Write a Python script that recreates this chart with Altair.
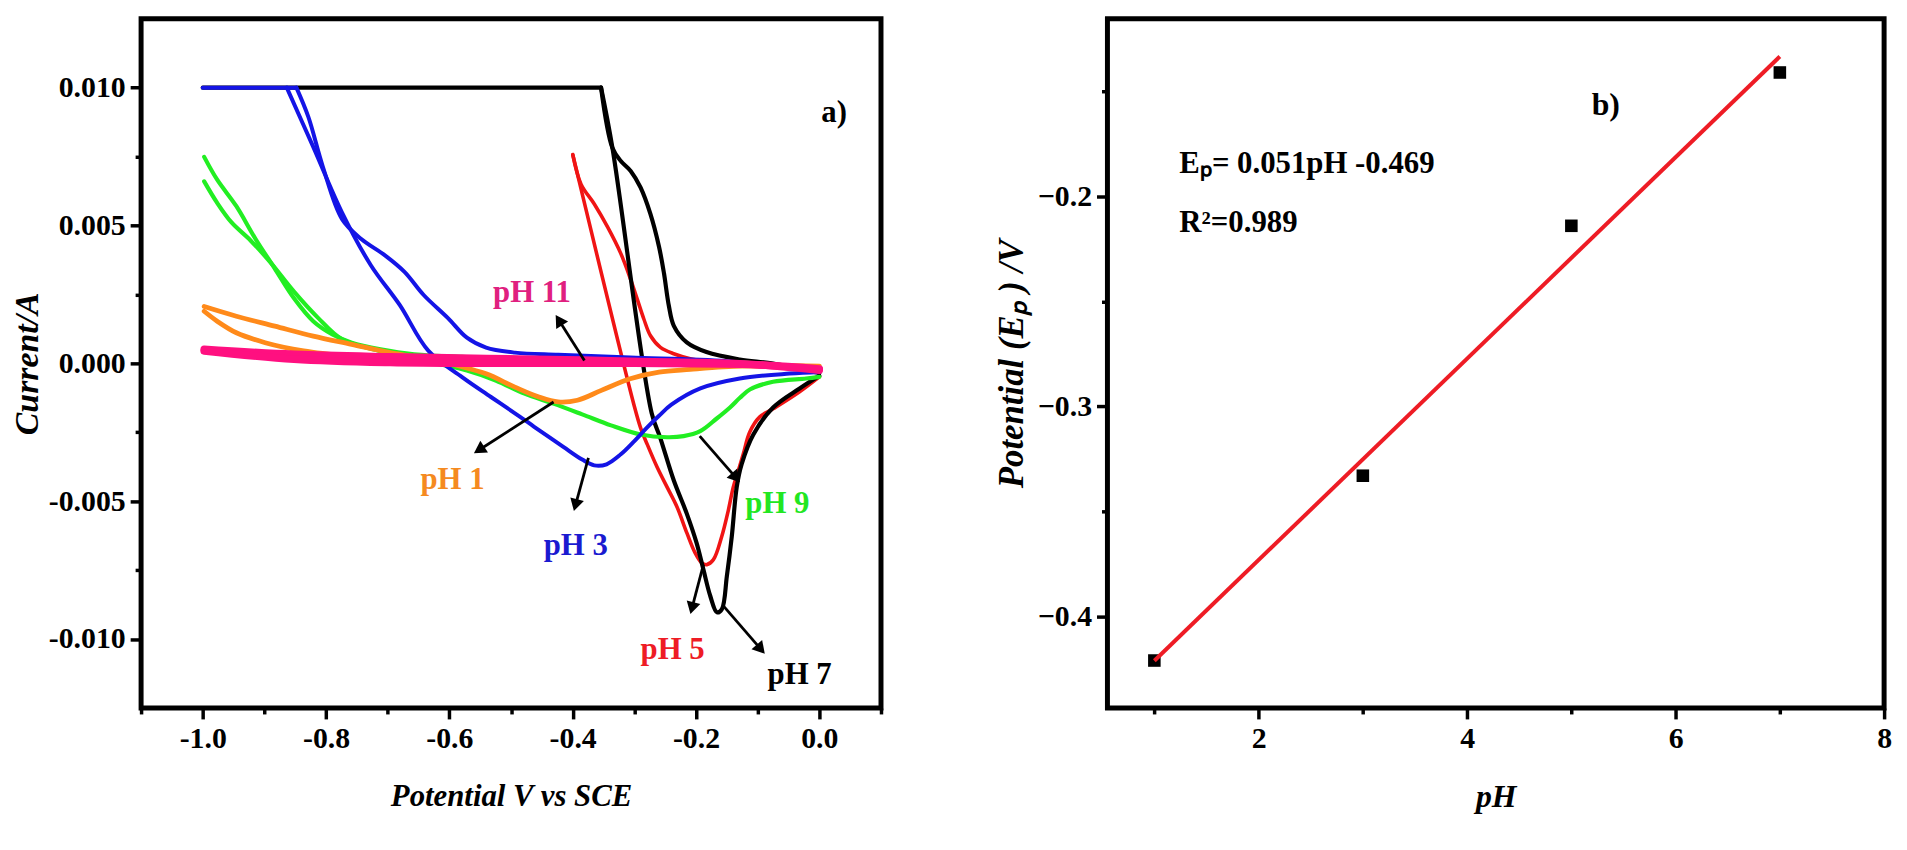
import math
import altair as alt
import pandas as pd

FONT = "Liberation Serif"

# ---------------- Panel a: cyclic voltammograms (potential V vs SCE, current A)
PH7_FLAT_X = [-1.0, -0.354]
PH7_FLAT_Y = [0.0100, 0.0100]
PH7_A_X = [0.0, -0.032, -0.075, -0.107, -0.126, -0.134, -0.142, -0.150, -0.158, -0.166, -0.177,
           -0.188, -0.199, -0.215, -0.236, -0.258, -0.272, -0.3355, -0.354]
PH7_A_Y = [-0.00045, -0.00091, -0.00160, -0.00258, -0.00366, -0.00449, -0.00628, -0.00772, -0.00891,
           -0.00903, -0.00843, -0.00748, -0.00652, -0.00545, -0.00425, -0.00270, -0.00180, 0.00781,
           0.0100]
PH7_B_X = [-0.354, -0.3355, -0.322, -0.306, -0.290, -0.274, -0.260, -0.252, -0.244, -0.236, -0.215,
           -0.183, -0.129, -0.075, 0.0]
PH7_B_Y = [0.0100, 0.00781, 0.00734, 0.00698, 0.00638, 0.00542, 0.00423, 0.00327, 0.00208, 0.00136,
           0.00076, 0.00041, 0.00014, -0.00001, -0.00035]

PH5_A_X = [0.0, -0.032, -0.075, -0.097, -0.113, -0.1235, -0.1315, -0.1396, -0.1476, -0.1583, -0.1718,
           -0.1825, -0.1906, -0.2013, -0.2147, -0.2308, -0.2469, -0.2630, -0.2791, -0.2899, -0.3006,
           -0.3999]
PH5_A_Y = [-0.00049, -0.00103, -0.00165, -0.00195, -0.00250, -0.00330, -0.00390, -0.00449, -0.00533,
           -0.00628, -0.00712, -0.00730, -0.00724, -0.00688, -0.00616, -0.00521, -0.00449, -0.00377,
           -0.00294, -0.00234, -0.00151, 0.00757]
PH5_B_X = [-0.3999, -0.3865, -0.3650, -0.3435, -0.3221, -0.3060, -0.2952, -0.2845, -0.2738, -0.2577,
           -0.2362, -0.2093, -0.1557, -0.0752, 0.0]
PH5_B_Y = [0.00757, 0.00650, 0.00578, 0.00495, 0.00399, 0.00304, 0.00232, 0.00160, 0.00100, 0.00058,
           0.00035, 0.00017, -0.00001, -0.00013, -0.00025]

PH3_FLAT_X = [-1.0, -0.8481]
PH3_FLAT_Y = [0.0100, 0.0100]
PH3_A_X = [-0.8637, -0.8208, -0.7741, -0.7274, -0.6806, -0.6339, -0.5794, -0.5326, -0.4859,
           -0.4625, -0.4158, -0.3846, -0.365, -0.345, -0.322, -0.300, -0.280, -0.260, -0.240, -0.193,
           -0.129, -0.048, 0.0]
PH3_A_Y = [0.0100, 0.00785, 0.00547, 0.00356, 0.00212, 0.00045, -0.00050, -0.00122, -0.00193,
           -0.00230, -0.00302, -0.00349, -0.00370, -0.00366, -0.00330, -0.00282, -0.00234, -0.00190,
           -0.00150, -0.00091, -0.00055, -0.00037, -0.00031]
PH3_B_X = [-0.8481, -0.8286, -0.8053, -0.7741, -0.7429, -0.7040, -0.6728, -0.6417, -0.6027,
           -0.5716, -0.5404, -0.4937, -0.4236, -0.3067, -0.15, 0.0]
PH3_B_Y = [0.0100, 0.00893, 0.00714, 0.00523, 0.00451, 0.00391, 0.00332, 0.00248, 0.00165,
           0.00093, 0.00057, 0.00039, 0.00031, 0.00021, 0.00008, -0.0003]

PH9_A_X = [-0.9977, -0.9766, -0.9455, -0.9143, -0.8832, -0.8520, -0.8208, -0.7897, -0.7585, -0.7118,
           -0.6573, -0.5794, -0.3, -0.1, 0.0]
PH9_A_Y = [0.00749, 0.00666, 0.00570, 0.00451, 0.00344, 0.00236, 0.00153, 0.00105, 0.00075, 0.00051,
           0.00033, 0.00024, 0.00012, 0.0, -0.0003]
PH9_B_X = [-0.9977, -0.9766, -0.9533, -0.9221, -0.8909, -0.8520, -0.8130, -0.7741, -0.7118, -0.6650,
           -0.6183, -0.5716, -0.5248, -0.4781, -0.4313, -0.3846, -0.3379, -0.2899, -0.2469, -0.2201,
           -0.1932, -0.1664, -0.1449, -0.1288, -0.1127, -0.0752, -0.0215, 0.0]
PH9_B_Y = [0.00660, 0.00582, 0.00511, 0.00445, 0.00368, 0.00260, 0.00165, 0.00087, 0.00045, 0.00021,
           -0.00002, -0.00026, -0.00062, -0.00110, -0.00146, -0.00185, -0.00225, -0.00258, -0.00268,
           -0.00264, -0.00246, -0.00200, -0.00160, -0.00125, -0.00095, -0.00067, -0.00055, -0.00049]

PH1_A_X = [-0.9977, -0.9455, -0.8832, -0.8208, -0.7585, -0.6962, -0.6339, -0.5872, -0.5404, -0.4937,
           -0.4547, -0.4236, -0.3924, -0.3535, -0.3067, -0.2600, -0.2093, -0.1557, -0.0752, 0.0]
PH1_A_Y = [0.00206, 0.00171, 0.00135, 0.00099, 0.00069, 0.00039, 0.00016, -0.00008, -0.00038, -0.00086,
           -0.00122, -0.00140, -0.00134, -0.00098, -0.00056, -0.00032, -0.00022, -0.00013, -0.00007,
           -0.0001]
PH1_B_X = [-0.9977, -0.9766, -0.9455, -0.8987, -0.8364, -0.7585, -0.6806, -0.5794, -0.3, 0.0]
PH1_B_Y = [0.00189, 0.00153, 0.00111, 0.00075, 0.00045, 0.00024, 0.00010, 0.0, -0.00002, -0.00015]

PH11_A_X = [-0.9977, -0.852, -0.696, -0.54, -0.385, -0.29, -0.129, 0.0]
PH11_A_Y = [0.00051, 0.00033, 0.00024, 0.00018, 0.00012, 0.00007, -0.00001, -0.00025]
PH11_B_X = [-0.9977, -0.852, -0.696, -0.54, -0.3, -0.1, 0.0]
PH11_B_Y = [0.00045, 0.00015, 0.00003, 0.0, 0.0, -0.00005, -0.0002]

# drawing order (bottom to top), line colours, line widths
SERIES = ["pH 5", "pH 7", "pH 9", "pH 3", "pH 1", "pH 11"]
LINE_COLORS = ["#F01414", "#000000", "#22EE22", "#1414E6", "#FF8A1A", "#FF1080"]
LINE_WIDTHS = [3.6, 4.2, 4.2, 4.0, 4.8, 7.5]
SEGMENTS = {
    "pH 7": [(PH7_FLAT_X, PH7_FLAT_Y), (PH7_A_X, PH7_A_Y), (PH7_B_X, PH7_B_Y)],
    "pH 5": [(PH5_A_X, PH5_A_Y), (PH5_B_X, PH5_B_Y)],
    "pH 9": [(PH9_A_X, PH9_A_Y), (PH9_B_X, PH9_B_Y)],
    "pH 3": [(PH3_FLAT_X, PH3_FLAT_Y), (PH3_A_X, PH3_A_Y), (PH3_B_X, PH3_B_Y)],
    "pH 1": [(PH1_A_X, PH1_A_Y), (PH1_B_X, PH1_B_Y)],
    "pH 11": [(PH11_A_X, PH11_A_Y), (PH11_B_X, PH11_B_Y)],
}

# annotation labels and arrows (tail -> head)
LABEL_TEXT = ["pH 11", "pH 1", "pH 3", "pH 9", "pH 5", "pH 7", "a)"]
LABEL_X = [-0.466, -0.595, -0.395, -0.068, -0.238, -0.032, 0.024]
LABEL_Y = [0.00254, -0.00425, -0.00663, -0.00509, -0.0104, -0.0113, 0.00907]
LABEL_COLORS = ["#E0207F", "#F58A20", "#1A1AD0", "#22E622", "#EE1C25", "#000000", "#000000"]
ARROW_TAIL_X = [-0.381, -0.431, -0.3745, -0.194, -0.188, -0.156]
ARROW_TAIL_Y = [0.0001, -0.0014, -0.00343, -0.00264, -0.0073, -0.00879]
ARROW_HEAD_X = [-0.4275, -0.56, -0.398, -0.129, -0.209, -0.0886]
ARROW_HEAD_Y = [0.00175, -0.00326, -0.00535, -0.00431, -0.00909, -0.01053]

# ---------------- Panel b: peak potential vs pH
PH_VALUES = [1, 3, 5, 7]
EP_VALUES = [-0.421, -0.333, -0.214, -0.141]
EQUATION = "Eₚ= 0.051pH -0.469"
R2_TEXT = "R²=0.989"

# ---------------- layout
WA, WB, H = 745, 782, 694
XA_DOM = [-1.1, 0.1]
YA_DOM = [-0.0125, 0.0125]
XB_DOM = [0.55, 8.0]
YB_DOM = [-0.4436, -0.1154]

rows = []
for ph in SERIES:
    for s, (xs, ys) in enumerate(SEGMENTS[ph]):
        for i, (x, y) in enumerate(zip(xs, ys)):
            rows.append({"ph": ph, "seg": f"{ph}-{s}", "idx": i, "v": x, "c": y})
cv = pd.DataFrame(rows)

px_v = WA / (XA_DOM[1] - XA_DOM[0])
px_a = H / (YA_DOM[1] - YA_DOM[0])
arows = []
for tx, ty, hx, hy in zip(ARROW_TAIL_X, ARROW_TAIL_Y, ARROW_HEAD_X, ARROW_HEAD_Y):
    dx = (hx - tx) * px_v
    dy = (hy - ty) * px_a
    L = math.hypot(dx, dy)
    ux, uy = dx / L, dy / L
    ang = math.degrees(math.atan2(dx, dy)) % 360
    cx = hx - 6 * ux / px_v
    cy = hy - 6 * uy / px_a
    arows.append({"x1": tx, "y1": ty, "x2": cx, "y2": cy, "hx": cx, "hy": cy, "ang": ang})
arrows = pd.DataFrame(arows)
labels = pd.DataFrame({"t": LABEL_TEXT, "x": LABEL_X, "y": LABEL_Y, "col": LABEL_COLORS})

tick_common = dict(
    labelFont=FONT, labelFontWeight="bold", labelFontSize=30, labelColor="black",
    tickColor="black", tickWidth=3.5, domain=False, grid=False, labelOverlap=False,
    labelFlush=False, titleFont=FONT, titleColor="black", labelPadding=5,
    titleFontStyle="italic", titleFontWeight="bold",
)

xa_major = "abs(datum.value*5 - round(datum.value*5)) < 1e-6"
ya_major = "abs(datum.value*200 - round(datum.value*200)) < 1e-6"
xa_axis = alt.Axis(
    values=[-1.1, -1.0, -0.9, -0.8, -0.7, -0.6, -0.5, -0.4, -0.3, -0.2, -0.1, 0.0, 0.1],
    tickSize={"condition": {"test": xa_major, "value": 11}, "value": 6},
    labelExpr=f"{xa_major} ? replace(format(datum.value, '.1f'), '\u2212', '-') : ''",
    title="Potential V vs SCE", titleFontSize=31, titlePadding=28, **tick_common,
)
ya_axis = alt.Axis(
    values=[-0.01, -0.0075, -0.005, -0.0025, 0.0, 0.0025, 0.005, 0.0075, 0.01],
    tickSize={"condition": {"test": ya_major, "value": 11}, "value": 6},
    labelExpr=f"{ya_major} ? replace(format(datum.value, '.3f'), '\u2212', '-') : ''",
    title="Current/A", titleFontSize=34, titlePadding=4, **tick_common,
)
xa_scale = alt.Scale(domain=XA_DOM, nice=False, zero=False)
ya_scale = alt.Scale(domain=YA_DOM, nice=False, zero=False)

layers = []
for ph, col, w in zip(SERIES, LINE_COLORS, LINE_WIDTHS):
    layers.append(
        alt.Chart(cv).transform_filter(alt.datum.ph == ph)
        .mark_line(color=col, strokeWidth=w, strokeJoin="round", strokeCap="round",
                   interpolate="catmull-rom")
        .encode(
            x=alt.X("v:Q", scale=xa_scale, axis=xa_axis),
            y=alt.Y("c:Q", scale=ya_scale, axis=ya_axis),
            detail="seg:N",
            order="idx:Q",
        )
    )

arrow_lines = alt.Chart(arrows).mark_rule(color="black", strokeWidth=2.8).encode(
    x=alt.X("x1:Q", scale=xa_scale, axis=xa_axis),
    y=alt.Y("y1:Q", scale=ya_scale, axis=ya_axis),
    x2="x2:Q", y2="y2:Q",
)
arrow_heads = alt.Chart(arrows).mark_point(
    shape="triangle-up", filled=True, size=200, color="black", opacity=1, strokeWidth=0
).encode(
    x=alt.X("hx:Q", scale=xa_scale, axis=xa_axis),
    y=alt.Y("hy:Q", scale=ya_scale, axis=ya_axis),
    angle=alt.Angle("ang:Q", scale=None),
)
label_text = alt.Chart(labels).mark_text(
    font=FONT, fontWeight="bold", fontSize=31, baseline="middle", align="center"
).encode(
    x=alt.X("x:Q", scale=xa_scale, axis=xa_axis),
    y=alt.Y("y:Q", scale=ya_scale, axis=ya_axis),
    text="t:N",
    color=alt.Color("col:N", scale=None),
)

panel_a = alt.layer(*layers, arrow_lines, arrow_heads, label_text).properties(width=WA, height=H)

# ---------------- panel b
dfb = pd.DataFrame({"ph": PH_VALUES, "ep": EP_VALUES})
xb_scale = alt.Scale(domain=XB_DOM, nice=False, zero=False)
yb_scale = alt.Scale(domain=YB_DOM, nice=False, zero=False)
yb_major = "abs(datum.value*10 - round(datum.value*10)) < 1e-6"
xb_axis = alt.Axis(
    values=[1, 2, 3, 4, 5, 6, 7, 8],
    tickSize={"condition": {"test": "datum.value % 2 === 0", "value": 11}, "value": 6},
    labelExpr="datum.value % 2 === 0 ? format(datum.value, 'd') : ''",
    title="pH", titleFontSize=32, titlePadding=28, **tick_common,
)
yb_axis = alt.Axis(
    values=[-0.4, -0.35, -0.3, -0.25, -0.2, -0.15],
    tickSize={"condition": {"test": yb_major, "value": 11}, "value": 6},
    labelExpr=f"{yb_major} ? format(datum.value, '.1f') : ''",
    title="Potential (Eₚ ) /V", titleFontSize=35, titlePadding=8, **tick_common,
)

pts = alt.Chart(dfb).mark_point(shape="square", filled=True, size=160, color="black", opacity=1).encode(
    x=alt.X("ph:Q", scale=xb_scale, axis=xb_axis),
    y=alt.Y("ep:Q", scale=yb_scale, axis=yb_axis),
)
fit = alt.Chart(dfb).transform_regression("ph", "ep").mark_line(color="#EE1C25", strokeWidth=4).encode(
    x=alt.X("ph:Q", scale=xb_scale, axis=xb_axis),
    y=alt.Y("ep:Q", scale=yb_scale, axis=yb_axis),
)
btext = pd.DataFrame({
    "t": ["b)", EQUATION, R2_TEXT],
    "x": [5.33, 1.24, 1.24],
    "y": [-0.1564, -0.1844, -0.2128],
})
b_label = alt.Chart(btext.iloc[[0]]).mark_text(
    font=FONT, fontWeight="bold", fontSize=32, align="center", baseline="middle", color="black"
).encode(x=alt.X("x:Q", scale=xb_scale, axis=xb_axis), y=alt.Y("y:Q", scale=yb_scale, axis=yb_axis), text="t:N")
eq_label = alt.Chart(btext.iloc[1:]).mark_text(
    font=FONT, fontWeight="bold", fontSize=31, align="left", baseline="middle", color="black"
).encode(x=alt.X("x:Q", scale=xb_scale, axis=xb_axis), y=alt.Y("y:Q", scale=yb_scale, axis=yb_axis), text="t:N")

panel_b = alt.layer(pts, fit, b_label, eq_label).properties(width=WB, height=H)

chart = alt.hconcat(panel_a, panel_b, spacing=106).configure_view(
    stroke="black", strokeWidth=5
).properties(
    background="white",
    padding={"left": 0, "top": 5, "right": 5, "bottom": 5},
)

chart.save("out.html", embed_options={"renderer": "svg", "actions": False})
